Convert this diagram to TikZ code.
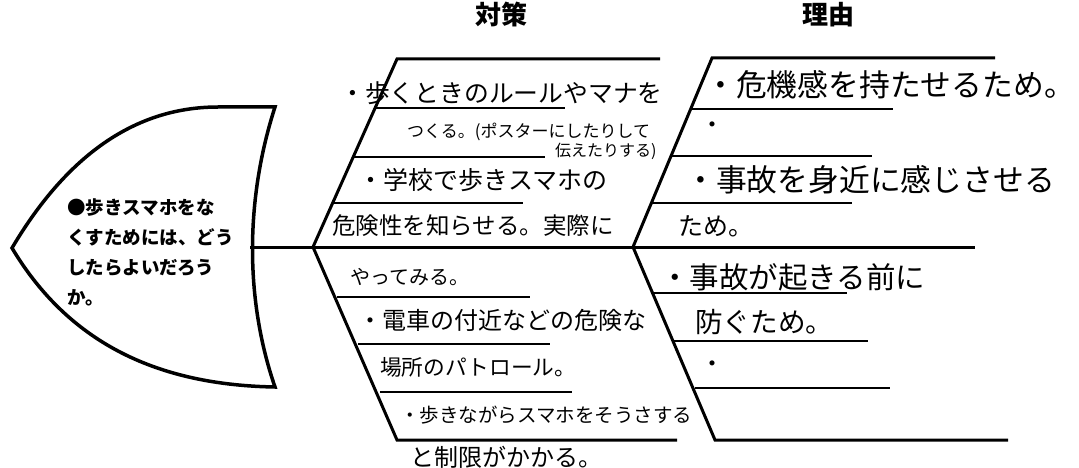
\documentclass[tikz,border=0pt]{standalone}
\usepackage{fontspec}
\setmainfont{Noto Sans CJK JP}

\begin{document}
\begin{tikzpicture}[x=1pt,y=-1pt,
    bone/.style={line width=3pt},
    uline/.style={line width=2.4pt},
    hw/.style={anchor=west,inner sep=0pt,font=\fontsize{#1}{#1}\selectfont},
    title/.style={inner sep=0pt,font=\bfseries\fontsize{26}{26}\selectfont}]
    \useasboundingbox (0,0) rectangle (1079,468);

    \draw [bone,line width=3.5pt] (12,248) .. controls (70,150) and (140,107) .. (218,107) -- (275,107)
        .. controls (245,200) and (245,300) .. (275,387)
        .. controls (160,385) and (70,345) .. (12,248) -- cycle;
    \node (Q) [anchor=west,inner sep=0pt,align=left,font=\bfseries\fontsize{18.5}{30}\selectfont] at (67,252)
        {●歩きスマホをな\\くすためには、どう\\したらよいだろう\\か。};

    \draw [bone] (250,247) -- (975,247);

    \node (H1) [title] at (501,15) {対策};
    \node (H2) [title] at (828,15) {理由};

    \draw [bone] (660,59) -- (397,59) -- (313,247) -- (397,440) -- (677,440);
    \draw [uline] (375,108) -- (565,108);
    \draw [uline] (353,157) -- (545,157);
    \draw [uline] (333,203) -- (523,203);
    \draw [uline] (337,297) -- (530,297);
    \draw [uline] (358,344) -- (550,344);
    \draw [uline] (380,392) -- (572,392);

    \draw [bone] (995,58) -- (712,58) -- (633,247) -- (715,440) -- (1008,440);
    \draw [uline] (691,109) -- (893,109);
    \draw [uline] (671,156) -- (872,156);
    \draw [uline] (651,203) -- (852,203);
    \draw [uline] (652,293) -- (847,293);
    \draw [uline] (673,341) -- (868,341);
    \draw [uline] (695,388) -- (890,388);

    \node (S1) [hw=24.8] at (340,93) {・歩くときのルールやマナを};
    \node (S2) [hw=17] at (407,132) {つくる。(ポスターにしたりして};
    \node (S3) [hw=16] at (555,151) {伝えたりする)};
    \node (S4) [hw=25] at (358,180) {・学校で歩きスマホの};
    \node (S5) [hw=23.5] at (332,226) {危険性を知らせる。実際に};
    \node (S6) [hw=20] at (350,277) {やってみる。};
    \node (S7) [hw=24] at (358,320) {・電車の付近などの危険な};
    \node (S8) [hw=21.7] at (380,367) {場所のパトロール。};
    \node (S9) [hw=19.5] at (400,415) {・歩きながらスマホをそうさする};
    \node (S10) [hw=24] at (410,457) {と制限がかかる。};

    \node (R1) [hw=30.8] at (705,85) {・危機感を持たせるため。};
    \node (R2) [hw=24] at (700,128) {・};
    \node (R3) [hw=30.8] at (685,180) {・事故を身近に感じさせる};
    \node (R4) [hw=25] at (678,226) {ため。};
    \node (R5) [hw=29.5] at (660,277) {・事故が起きる前に};
    \node (R6) [hw=27.6] at (695,322) {防ぐため。};
    \node (R7) [hw=24] at (700,367) {・};
\end{tikzpicture}
\end{document}
